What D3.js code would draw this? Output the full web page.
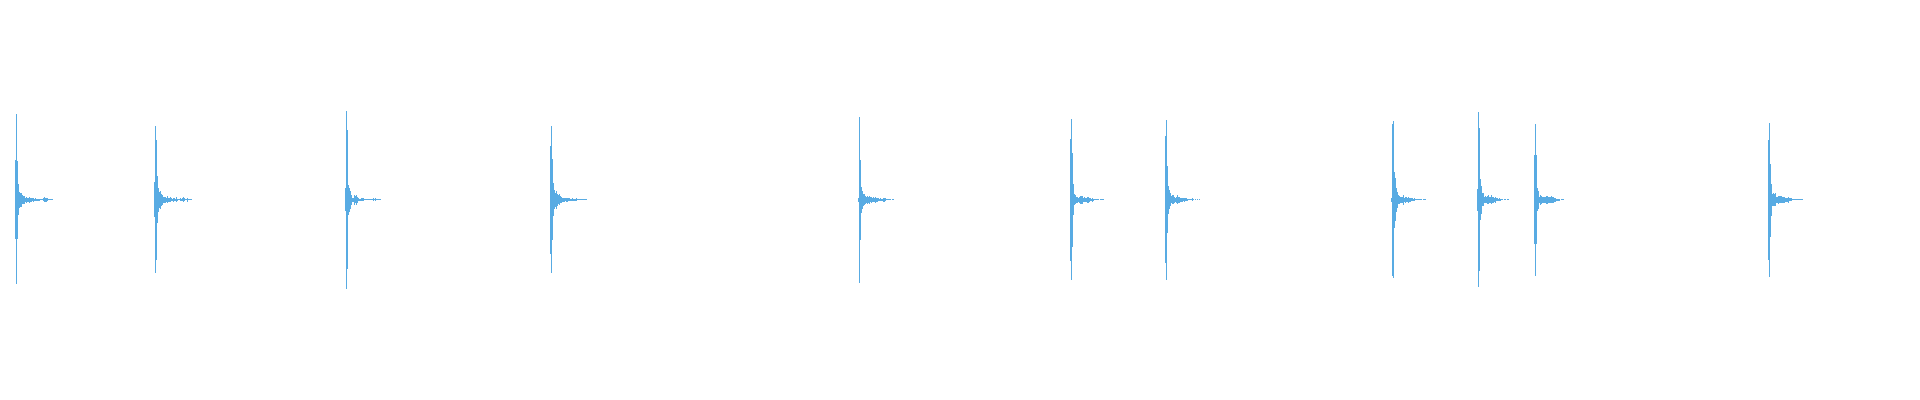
<!DOCTYPE html>
<html>
<head>
<meta charset="utf-8">
<script src="https://cdn.jsdelivr.net/npm/d3@7"></script>
<style>
  body { margin: 0; background: #fff; }
</style>
</head>
<body>
<div id="canvas"></div>
<script>
// first column (frame) of each burst
const burstStarts = [15, 154, 345, 550, 858, 1070, 1165, 1391, 1477, 1534, 1768]

// peak per column, in % of full scale: number = symmetric, [max, min] otherwise
const burst1 = [[39.5, -39], [85.5, -84.5], [39, -39], 15.5, 8, 7, 7, 4.5, 4, 4, 2, 3, 2, 2, 3, 2, 2, 1.5, 2, 1,
  1.5, 1, 1, 1, 1, 0.7, 0.7, 0.7, 1.5, 2.5, 2, 2, 1.5, 0.7, 0.7, 0.7, 0.7, 0.5]
const burst2 = [[18, -17], [74, -73], [60, -60], [23.5, -23], 12, 8, 9, 6, 5, 3, 3, 3, 2, 3.5, 2, 2, 2.5, 1.5, 1, 2,
  1.5, 1, 2.5, 1, 0.7, 0.7, 1.5, 1, 1.5, 2.5, 1.5, 0.7, 0.7, 2, 0.7, 0.7, 0.7, 0.5]
const burst3 = [[12, -11.5], [88.5, -89.5], [69.5, -69.5], 15, 12, 9, 5, 2, 2, 5, 3.5, 5, 3, 1.5, 1, 1, 1.5, 1.5, 1.5,
  0.7, 0.7, 0.7, 0.7, 0.7, 0.7, 0.7, 0.7, 0.7, 1.5, 0.7, 1.5, 0.7, 0.7, 0.7, 0.7, 0.5]
const burst4 = [[53.5, -54.5], [73.5, -73], [40.5, -40], [17, -16.5], 9.5, 7, 9, 6, 4.5, 5.5, 3.5, 3, 2, 2, 2, 1.5, 2,
  2, 1.5, 1.5, 1, 1, 1.5, 1, 1, 1, 1.5, 0.7, 0.7, 0.7, 0.7, 0.7, 0.7, 0.7, 0.7, 0.5, 0.5]
const burst5 = [2, [83, -83], [39.5, -40.5], [12.5, -13], 9, 6, 5.5, 4, 3, 4, 3, 4, 2.5, 3, 2, 2.5, 2, 3, 2, 2, 1.5,
  1, 1.5, 1, 1, 2, 2, 1.5, 0.7, 0.7, 0.7, 0.5, 0.5, 0, 0.5, 0.5]
const burst6 = [[60.5, -61.5], [80.5, -80.5], [47, -47], [15.5, -15.5], 5.5, 4.5, 3, 3, 2, 3, 4, 4, 4, 2, 2.5, 2, 2,
  3, 3, 2, 1.5, 1, 2, 1, 0.7, 0.7, 0.7, 0.7, 0.7, 0, 0.5, 0.5, 0.5, 0.5]
const burst7 = [[64, -63], [79.5, -80.5], [33.5, -33], [13.5, -14], 9.5, 6.5, 3.5, 4.5, 4.5, 3, 2, 3, 4.5, 3, 3, 2, 2,
  2, 1.5, 2, 1.5, 1.5, 1, 0.7, 0.7, 0.7, 0.7, 1.5, 0.7, 0, 0.5, 0, 0.5, 0, 0.5]
const burst8 = [2, [75.5, -76], [79, -78], [28, -28], [22, -21], 12, 8, 4.5, 4, 3, 3, 3, 5, 2, 3, 2.5, 2, 3, 2, 2, 1.5,
  1.5, 1, 1.5, 0.7, 0.7, 0.7, 0.7, 0.7, 0.5, 0.5, 0, 0.5, 0.5, 0.5]
const burst9 = [[11, -11], [87.5, -87], [71.5, -71], [20.5, -20.5], [13.5, -14], 6.5, 6.5, 3, 3.5, 3, 4, 4.5, 3, 3,
  4.5, 3, 3, 2, 3, 1.5, 1.5, 1, 1.5, 1, 0.5, 0.5, 0, 0.5, 0.5, 0, 0.5, 0.5]
const burst10 = [[44.5, -44.5], [75.5, -76], [44.5, -44.5], 11.5, 9, 3, 5, 4, 3, 3, 3, 3, 4, 4, 3, 3, 3, 3.5, 3, 3, 2,
  2, 1, 1, 1, 1, 0, 0.5, 0.5, 0.5]
const burst11 = [[59.5, -60.5], [77, -77], [36, -37], [15.5, -16.5], 6, 6.5, 6, 6.5, 3, 3, 4, 3.5, 3.5, 3.5, 3, 3, 3,
  2, 2, 2, 3, 1.5, 1.5, 1.5, 0.7, 0.7, 0.7, 0.7, 0.7, 0.7, 0.7, 0.7, 0.7, 0.7, 0.5]

const bursts = [burst1, burst2, burst3, burst4, burst5, burst6, burst7, burst8, burst9, burst10, burst11]

const width = 1920
const height = 400
const waveColor = '#58abe3'

const frames = []
bursts.forEach((b, i) => {
  b.forEach((v, j) => {
    if (v === 0) return
    const hi = Array.isArray(v) ? v[0] : v
    const lo = Array.isArray(v) ? v[1] : -v
    frames.push({ t: burstStarts[i] + j, hi: hi, lo: lo })
  })
})

const svg = d3.select('#canvas')
  .append('svg')
    .attr('width', width)
    .attr('height', height)

const x = d3.scaleLinear()
  .domain([0, width])
  .range([0, width])

const y = d3.scaleLinear()
  .domain([-100, 100])
  .range([299.5, 99.5])

svg.append('g')
    .attr('shape-rendering', 'crispEdges')
  .selectAll('rect')
  .data(frames)
  .enter()
  .append('rect')
    .attr('fill', waveColor)
    .attr('x', d => x(d.t))
    .attr('width', d => x(d.t + 1) - x(d.t))
    .attr('y', d => y(d.hi))
    .attr('height', d => Math.max(1, y(d.lo) - y(d.hi)))
</script>
</body>
</html>
